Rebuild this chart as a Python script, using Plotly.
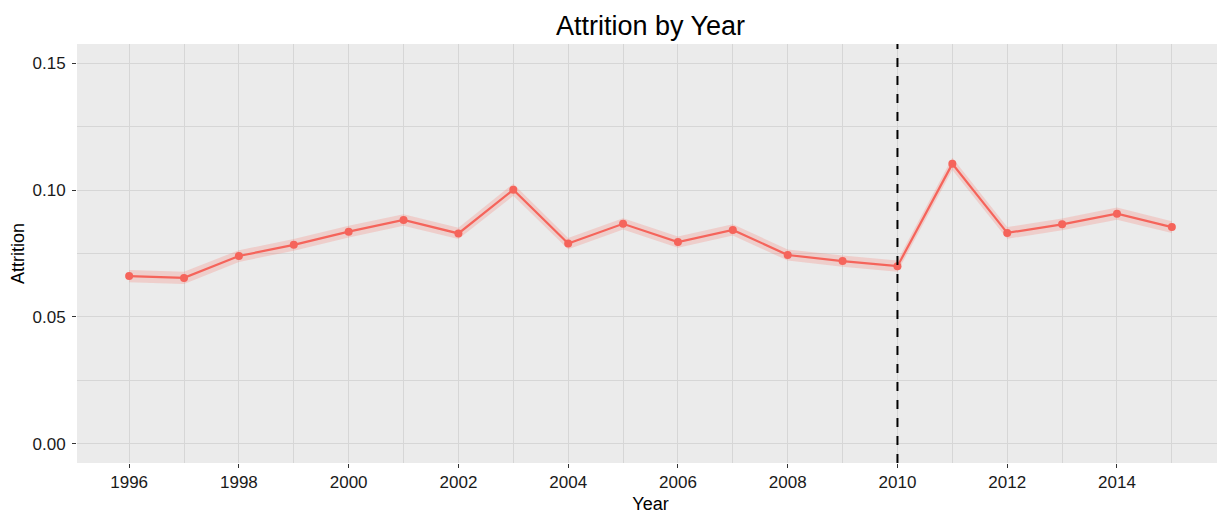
import plotly.graph_objects as go

years = list(range(1996, 2016))
attrition = [0.0661, 0.0654, 0.0740, 0.0784, 0.0836, 0.0882, 0.0829, 0.1001,
             0.0789, 0.0867, 0.0795, 0.0843, 0.0744, 0.0720, 0.0700, 0.1103,
             0.0831, 0.0865, 0.0907, 0.0854]
lower = [0.0637, 0.0630, 0.0717, 0.0761, 0.0813, 0.0859, 0.0807, 0.0977,
         0.0767, 0.0845, 0.0773, 0.0821, 0.0722, 0.0698, 0.0678, 0.1079,
         0.0808, 0.0842, 0.0883, 0.0831]
upper = [0.0685, 0.0678, 0.0763, 0.0807, 0.0859, 0.0905, 0.0851, 0.1025,
         0.0811, 0.0889, 0.0817, 0.0865, 0.0766, 0.0742, 0.0722, 0.1127,
         0.0854, 0.0888, 0.0931, 0.0877]
cutoff_year = 2010

red = "#F8766D"
grid = "#d6d6d6"
font = "Liberation Sans, Arial, sans-serif"

fig = go.Figure()

# confidence band
fig.add_trace(go.Scatter(
    x=years + years[::-1],
    y=upper + lower[::-1],
    fill="toself",
    fillcolor="rgba(248, 118, 109, 0.25)",
    line=dict(width=0),
    hoverinfo="skip",
    showlegend=False,
))

fig.add_trace(go.Scatter(
    x=years,
    y=attrition,
    mode="lines+markers",
    line=dict(color="#f5645b", width=2.2),
    marker=dict(color="#f5645b", size=8),
    showlegend=False,
))

fig.add_vline(x=cutoff_year, line_width=2, line_color="black", line_dash="dash")

# page body adds an 8px offset, so the figure is a bit smaller than the window
fig.update_layout(
    width=1217,
    height=510,
    margin=dict(l=69, r=1, t=36, b=55),
    paper_bgcolor="white",
    plot_bgcolor="#ebebeb",
    font=dict(family=font, size=17, color="#1a1a1a"),
    title=dict(text="Attrition by Year", x=0.5, xanchor="center", xref="paper",
               y=0.985, yanchor="top", font=dict(size=27, color="black")),
    xaxis=dict(
        title=dict(text="Year", standoff=5, font=dict(size=18, color="black")),
        automargin=False,
        range=[1995.05, 2015.95],
        tickmode="linear", tick0=1996, dtick=2,
        ticks="outside", ticklen=4, tickcolor="#333333",
        ticklabelstandoff=0,
        showgrid=True, gridcolor=grid, gridwidth=1,
        minor=dict(tickmode="linear", tick0=1997, dtick=2, showgrid=True,
                   gridcolor=grid, gridwidth=1),
        zeroline=False, showline=False,
    ),
    yaxis=dict(
        title=dict(text="Attrition", standoff=9, font=dict(size=18, color="black")),
        automargin=False,
        range=[-0.0075, 0.1575],
        tickmode="linear", tick0=0, dtick=0.05, tickformat=".2f",
        ticks="outside", ticklen=4, tickcolor="#333333",
        ticklabelstandoff=3,
        showgrid=True, gridcolor=grid, gridwidth=1,
        minor=dict(tickmode="linear", tick0=0.025, dtick=0.05, showgrid=True,
                   gridcolor=grid, gridwidth=1),
        zeroline=False, showline=False,
    ),
)

fig.write_html("out.html")
